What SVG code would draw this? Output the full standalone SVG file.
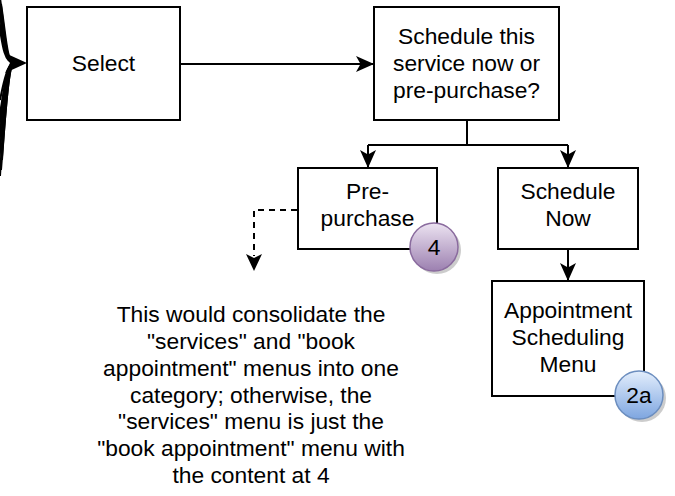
<svg xmlns="http://www.w3.org/2000/svg" width="675" height="496" viewBox="0 0 675 496">
<defs>
<style>
.box{fill:#fff;stroke:#000;stroke-width:2}
.t{font-family:"Liberation Sans",Arial,Helvetica,sans-serif;font-size:22.8px;fill:#000;text-anchor:middle}
.ln{fill:none;stroke:#000;stroke-width:2}
.dash{fill:none;stroke:#000;stroke-width:2;stroke-dasharray:6,5}
.curve{fill:none;stroke:#000;stroke-width:2}
</style>
<marker id="arr" markerUnits="userSpaceOnUse" viewBox="0 0 18 16" refX="17" refY="8" markerWidth="18" markerHeight="16" orient="auto">
<path d="M0,0 L18,8 L0,16 L4.5,8 Z" fill="#000"/>
</marker>
<linearGradient id="gp" x1="0" y1="0" x2="0" y2="1">
<stop offset="0" stop-color="#ece3f1"/>
<stop offset="1" stop-color="#9c80b0"/>
</linearGradient>
<linearGradient id="gb" x1="0" y1="0" x2="0" y2="1">
<stop offset="0" stop-color="#e3eefc"/>
<stop offset="1" stop-color="#7ea6e0"/>
</linearGradient>
</defs>

<g id="connectors">
<path class="curve" d="M-4,-12 C3,30 4,63 14,63"/>
<path class="curve" d="M-2,-6 C4,32 5,63 14,63"/>
<path class="curve" d="M0,-2 C5,34 6,63 14,63"/>
<path class="curve" d="M1,4 C6,36 7,63 14,63"/>
<path class="curve" d="M-3,10 C2,40 3,63 14,63"/>
<path class="curve" d="M-1,20 C4,44 6,63 14,63"/>
<path class="curve" d="M-4,186 C2,110 5,63 14,63"/>
<path class="curve" d="M-2,180 C3,108 7,63 14,63"/>
<path class="curve" d="M0,176 C4,106 8,63 14,63"/>
<path class="curve" d="M1,170 C6,104 9,63 14,63"/>
<path class="curve" d="M-2,140 C3,95 6,63 14,63"/>
<path class="curve" d="M-1,120 C4,88 8,63 14,63"/>
<path class="curve" d="M0,100 C4,80 8,63 14,63"/>
<path class="curve" d="M2,160 C6,100 10,63 14,63"/>
<path d="M27,63 L5,53 L10,63 L5,73 Z" fill="#000"/>
<line class="ln" x1="180" y1="64" x2="373" y2="64" marker-end="url(#arr)"/>
<polyline class="ln" points="467,120 467,145"/>
<polyline class="ln" points="368,145 568,145"/>
<line class="ln" x1="368" y1="145" x2="368" y2="167" marker-end="url(#arr)"/>
<line class="ln" x1="568" y1="145" x2="568" y2="167" marker-end="url(#arr)"/>
<line class="ln" x1="568" y1="249" x2="568" y2="280" marker-end="url(#arr)"/>
<polyline class="dash" points="297,210 254,210 254,256"/>
<path d="M254,271 L246,254 L254,258 L262,254 Z" fill="#000"/>
</g>

<g id="select">
<rect class="box" x="27" y="7" width="153" height="113"/>
<text class="t" x="103.5" y="71">Select</text>
</g>

<g id="schedule-question">
<rect class="box" x="374" y="7" width="185" height="113"/>
<text class="t" x="466.5" y="44">Schedule this</text>
<text class="t" x="466.5" y="71">service now or</text>
<text class="t" x="466.5" y="98">pre-purchase?</text>
</g>

<g id="pre-purchase">
<rect class="box" x="298" y="168" width="139" height="81"/>
<text class="t" x="367.5" y="199">Pre-</text>
<text class="t" x="367.5" y="226">purchase</text>
</g>

<g id="schedule-now">
<rect class="box" x="498" y="168" width="140" height="81"/>
<text class="t" x="568" y="199">Schedule</text>
<text class="t" x="568" y="226">Now</text>
</g>

<g id="appointment-menu">
<rect class="box" x="492" y="281" width="152" height="115"/>
<text class="t" x="568" y="318">Appointment</text>
<text class="t" x="568" y="345">Scheduling</text>
<text class="t" x="568" y="372">Menu</text>
</g>

<g id="badge-4">
<circle cx="437" cy="250" r="24" fill="#000" opacity="0.2"/>
<circle cx="434" cy="247" r="24" fill="url(#gp)" stroke="#8a6b9e" stroke-width="1.5"/>
<text class="t" x="434" y="255">4</text>
</g>

<g id="badge-2a">
<circle cx="642" cy="398" r="24" fill="#000" opacity="0.2"/>
<circle cx="639" cy="395" r="24" fill="url(#gb)" stroke="#6c8ebf" stroke-width="1.5"/>
<text class="t" x="639" y="403">2a</text>
</g>

<g id="note">
<text class="t" x="251" y="322">This would consolidate the</text>
<text class="t" x="251" y="349">"services" and "book</text>
<text class="t" x="251" y="376">appointment" menus into one</text>
<text class="t" x="251" y="403">category; otherwise, the</text>
<text class="t" x="251" y="429">"services" menu is just the</text>
<text class="t" x="251" y="456">"book appointment" menu with</text>
<text class="t" x="251" y="483">the content at 4</text>
</g>
</svg>
